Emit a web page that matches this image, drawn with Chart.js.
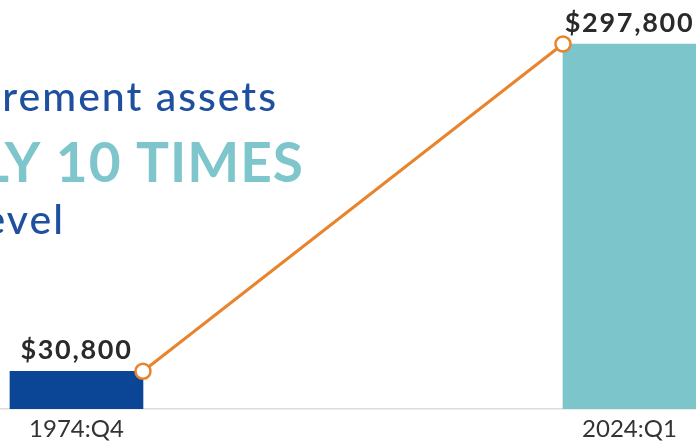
<!DOCTYPE html>
<html>
<head>
<meta charset="utf-8">
<script src="https://cdn.jsdelivr.net/npm/chart.js@4.4.1/dist/chart.umd.min.js"></script>
<style>
  html, body { margin: 0; padding: 0; background: #fff; }
  #wrap { width: 696px; height: 443px; position: relative; }
</style>
</head>
<body>
<div id="wrap"><canvas id="chart"></canvas></div>
<script>
(function () {
    'use strict';

    // ─── Data ─────────────────────────────────────────────────────────────────
    const periods     = ['1974:Q4', '2024:Q1'];
    const assets      = [30800, 297800];
    const valueLabels = ['$30,800', '$297,800'];
    const headline    = ['rement assets', 'LY 10 TIMES', 'evel'];

    const BLUE   = '#0b4596';
    const TEAL   = '#7bc5cb';
    const ORANGE = '#e8842c';
    const FONT   = 'Lato, "Open Sans", sans-serif';

    // ─── Plugins ──────────────────────────────────────────────────────────────
    const headlinePlugin = {
        id: 'headline',
        beforeDatasetsDraw(chart) {
            const c = chart.ctx;
            c.save();
            c.textAlign = 'right';
            c.textBaseline = 'alphabetic';
            c.letterSpacing = '2px';
            c.fillStyle = '#1f4f9f';
            c.font = '500 41px ' + FONT;
            c.fillText(headline[0], 278, 111);
            c.letterSpacing = '1px';
            c.fillStyle = '#7fc6cc';
            c.font = 'bold 55px ' + FONT;
            c.fillText(headline[1], 304, 182);
            c.letterSpacing = '2px';
            c.fillStyle = '#1f4f9f';
            c.font = '500 41px ' + FONT;
            c.fillText(headline[2], 65, 234);
            c.restore();
        }
    };

    // connector line from top-right of first bar to top-left of second
    const connectorPlugin = {
        id: 'connector',
        afterDatasetsDraw(chart) {
            const bars = chart.getDatasetMeta(0).data;
            if (bars.length < 2) return;
            const a = bars[0], b = bars[1];
            const p1 = { x: a.x + a.width / 2, y: a.y };
            const p2 = { x: b.x - b.width / 2, y: b.y };
            const c = chart.ctx;
            c.save();
            c.strokeStyle = ORANGE;
            c.lineWidth = 3;
            c.beginPath();
            c.moveTo(p1.x, p1.y);
            c.lineTo(p2.x, p2.y);
            c.stroke();
            [p1, p2].forEach(p => {
                c.beginPath();
                c.arc(p.x, p.y, 7.5, 0, Math.PI * 2);
                c.fillStyle = '#fff';
                c.fill();
                c.lineWidth = 2.5;
                c.stroke();
            });

            // value labels
            c.fillStyle = '#2a2a2a';
            c.font = 'bold 27px ' + FONT;
            c.letterSpacing = '1.7px';
            c.textAlign = 'center';
            c.textBaseline = 'alphabetic';
            bars.forEach((bar, i) => {
                c.fillText(valueLabels[i], bar.x, bar.y - 12);
            });
            c.restore();
        }
    };

    // ─── Chart ────────────────────────────────────────────────────────────────
    document.addEventListener('DOMContentLoaded', function () {
        new Chart(document.getElementById('chart'), {
            type: 'bar',
            data: {
                datasets: [{
                    data: assets.map((v, i) => ({ x: i, y: v })),
                    backgroundColor: [BLUE, TEAL],
                    borderWidth: 0,
                    barThickness: 133,
                }],
            },
            options: {
                responsive: true,
                maintainAspectRatio: false,
                animation: false,
                layout: { padding: 0 },
                plugins: { legend: { display: false }, tooltip: { enabled: false } },
                scales: {
                    x: {
                        type: 'linear',
                        offset: false,
                        min: -0.1383,
                        max: 1.1203,
                        grid: { display: false, drawTicks: false },
                        border: { display: true, color: '#dcdcdc', width: 1.5 },
                        afterBuildTicks: s => { s.ticks = periods.map((_, i) => ({ value: i })); },
                        afterFit: s => { s.height = 34; },
                        ticks: {
                            autoSkip: false,
                            maxRotation: 0,
                            padding: 6,
                            color: '#333',
                            font: { family: FONT, size: 24 },
                            callback: v => periods[v] ?? '',
                        },
                    },
                    y: {
                        display: false,
                        min: 0,
                        max: 333700,
                    },
                },
            },
            plugins: [headlinePlugin, connectorPlugin],
        });
    });
})();
</script>
</body>
</html>
